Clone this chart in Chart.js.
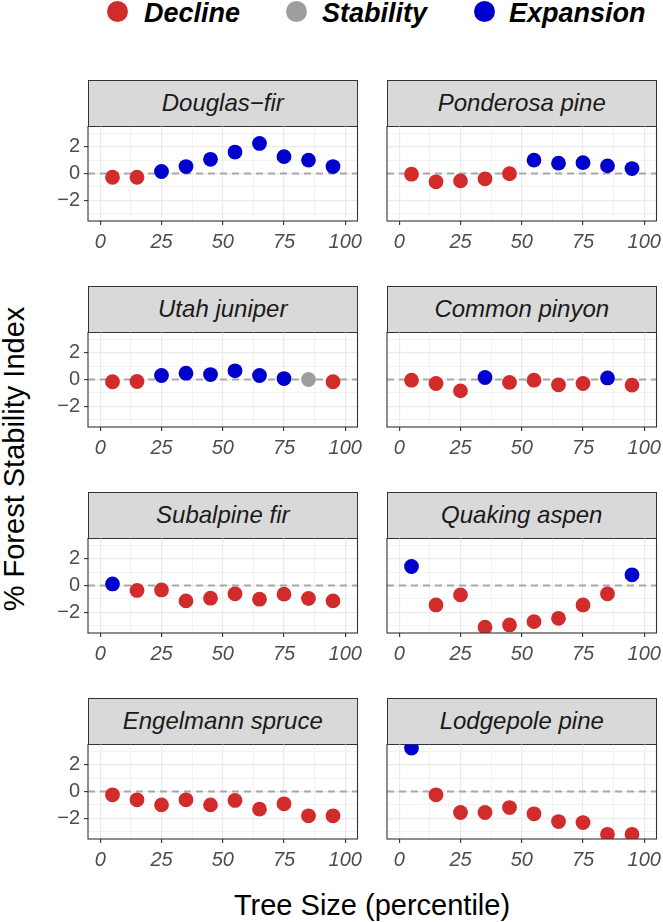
<!DOCTYPE html>
<html>
<head>
<meta charset="utf-8">
<script src="https://cdn.jsdelivr.net/npm/chart.js@4.4.1/dist/chart.umd.min.js"></script>
<style>
  body { margin: 0; background: #fff; font-family: "Liberation Sans", Arial, sans-serif; }
  #page { position: relative; width: 663px; height: 922px; overflow: hidden; }
  .strip {
    position: absolute; box-sizing: border-box; background: #D9D9D9;
    border: 1.1px solid #333; display: flex; align-items: center; justify-content: center;
    font-style: italic; font-size: 24px; color: #1A1A1A;
  }
  .panel { position: absolute; }
  .lg-dot { position: absolute; width: 21px; height: 21px; border-radius: 50%; }
  .lg-txt { position: absolute; font-weight: bold; font-style: italic; font-size: 27px; line-height: 27px; color: #000; }
  .axis-title { position: absolute; font-size: 29px; color: #000; white-space: nowrap; }
</style>
</head>
<body>
<div id="page"></div>
<script>
// size classes (percentile midpoints)
const sizeClasses = [5, 15, 25, 35, 45, 55, 65, 75, 85, 95];

const speciesNames = [
  'Douglas−fir', 'Ponderosa pine',
  'Utah juniper', 'Common pinyon',
  'Subalpine fir', 'Quaking aspen',
  'Engelmann spruce', 'Lodgepole pine'
];

// % forest stability index per size class
const douglasFir      = [-0.28, -0.28, 0.15, 0.52, 1.06, 1.6, 2.25, 1.26, 1.0, 0.52];
const ponderosaPine   = [-0.05, -0.62, -0.55, -0.4, -0.02, 1.0, 0.77, 0.81, 0.57, 0.37];
const utahJuniper     = [-0.17, -0.15, 0.3, 0.47, 0.37, 0.65, 0.3, 0.07, 0.0, -0.17];
const commonPinyon    = [-0.05, -0.3, -0.85, 0.15, -0.22, -0.05, -0.4, -0.3, 0.12, -0.42];
const subalpineFir    = [0.12, -0.37, -0.33, -1.15, -0.95, -0.62, -1.02, -0.65, -0.97, -1.15];
const quakingAspen    = [1.42, -1.45, -0.7, -3.12, -2.95, -2.7, -2.45, -1.45, -0.62, 0.8];
const engelmannSpruce = [-0.25, -0.62, -1.0, -0.62, -1.0, -0.67, -1.32, -0.92, -1.82, -1.82];
const lodgepolePine   = [3.25, -0.25, -1.57, -1.57, -1.2, -1.67, -2.25, -2.32, -3.2, -3.2];

// D = Decline, S = Stability, E = Expansion
const douglasFirStatus      = ['D','D','E','E','E','E','E','E','E','E'];
const ponderosaPineStatus   = ['D','D','D','D','D','E','E','E','E','E'];
const utahJuniperStatus     = ['D','D','E','E','E','E','E','E','S','D'];
const commonPinyonStatus    = ['D','D','D','E','D','D','D','D','E','D'];
const subalpineFirStatus    = ['E','D','D','D','D','D','D','D','D','D'];
const quakingAspenStatus    = ['E','D','D','D','D','D','D','D','D','E'];
const engelmannSpruceStatus = ['D','D','D','D','D','D','D','D','D','D'];
const lodgepolePineStatus   = ['E','D','D','D','D','D','D','D','D','D'];

const seriesValues = [douglasFir, ponderosaPine, utahJuniper, commonPinyon,
  subalpineFir, quakingAspen, engelmannSpruce, lodgepolePine];
const seriesStatus = [douglasFirStatus, ponderosaPineStatus, utahJuniperStatus, commonPinyonStatus,
  subalpineFirStatus, quakingAspenStatus, engelmannSpruceStatus, lodgepolePineStatus];

const legendLabels = ['Decline', 'Stability', 'Expansion'];
const statusKeys = ['D', 'S', 'E'];
const statusColors = { D: '#D22B2B', S: '#9E9E9E', E: '#0000CD' };

const xTicks = [0, 25, 50, 75, 100];
const xMinor = [12.5, 37.5, 62.5, 87.5];
const yTicks = [-2, 0, 2];
const yMinor = [-3, -1, 1, 3];

// layout
const page = document.getElementById('page');
const colLeft = [88, 387];
const panelW = 269.5;
const rowTop = [126, 332, 538, 744];
const panelH = 95.5;
const stripH = 46.5;
const axisH = 40;

function el(cls, style, text) {
  const d = document.createElement('div');
  d.className = cls;
  Object.assign(d.style, style);
  if (text !== undefined) d.textContent = text;
  page.appendChild(d);
  return d;
}

// legend
const legendDotX = [107, 286, 474];
const legendTxtX = [144, 322, 509];
legendLabels.forEach((lab, i) => {
  el('lg-dot', { left: legendDotX[i] + 'px', top: '1px', background: statusColors[statusKeys[i]] });
  el('lg-txt', { left: legendTxtX[i] + 'px', top: '0px' }, lab);
});

// axis titles
el('axis-title', { left: '372px', top: '889px', transform: 'translateX(-50%)' }, 'Tree Size (percentile)');
el('axis-title', { left: '14px', top: '459px', transform: 'translate(-50%,-50%) rotate(-90deg)' }, '% Forest Stability Index');

const borderPlugin = {
  id: 'panelBorder',
  afterDatasetsDraw(chart) {
    const a = chart.chartArea, c = chart.ctx;
    c.save();
    c.strokeStyle = '#333333';
    c.lineWidth = 1.1;
    c.strokeRect(a.left, a.top, a.right - a.left, a.bottom - a.top);
    c.restore();
  }
};

const fmt = v => (v < 0 ? '−' + Math.abs(v) : String(v));

speciesNames.forEach((name, i) => {
  const col = i % 2, row = Math.floor(i / 2);
  const left = colLeft[col], top = rowTop[row];

  el('strip', {
    left: left + 'px', top: (top - stripH) + 'px',
    width: panelW + 'px', height: (stripH + 1) + 'px'
  }, name);

  const yAxisW = col === 0 ? 58 : 0;
  const canvasLeft = col === 0 ? left - yAxisW : left - 10;
  const padLeft = col === 0 ? 0 : 10;
  const canvasW = col === 0 ? 342 : 663 - canvasLeft;
  const padRight = canvasW - padLeft - yAxisW - panelW;

  const wrap = el('panel', {
    left: canvasLeft + 'px', top: top + 'px',
    width: canvasW + 'px', height: (panelH + axisH) + 'px'
  });
  const cv = document.createElement('canvas');
  cv.width = canvasW;
  cv.height = panelH + axisH;
  wrap.appendChild(cv);

  const pts = sizeClasses.map((x, k) => ({ x: x, y: seriesValues[i][k] }));
  const cols = seriesStatus[i].map(s => statusColors[s]);

  new Chart(cv, {
    type: 'scatter',
    data: {
      datasets: [
        {
          data: pts,
          pointRadius: 7.4,
          pointHoverRadius: 7.4,
          pointBackgroundColor: cols,
          pointBorderWidth: 0,
          pointBorderColor: cols,
          clip: 0,
          order: 0
        },
        {
          type: 'line',
          data: [{ x: -5, y: 0 }, { x: 105, y: 0 }],
          borderColor: '#A8A8A8',
          borderWidth: 2.2,
          borderDash: [7, 5],
          pointRadius: 0,
          clip: 0,
          order: 2
        }
      ]
    },
    options: {
      responsive: false,
      animation: false,
      events: [],
      layout: { autoPadding: false, padding: { left: padLeft, right: padRight, top: 0, bottom: 0 } },
      plugins: { legend: { display: false }, tooltip: { enabled: false } },
      scales: {
        x: {
          type: 'linear', min: -5, max: 105,
          afterBuildTicks: s => { s.ticks = xTicks.concat(xMinor).sort((a, b) => a - b).map(v => ({ value: v })); },
          afterFit: s => { s.height = axisH; s.paddingLeft = 0; s.paddingRight = 0; },
          border: { display: false },
          grid: {
            color: '#EBEBEB',
            lineWidth: c => (xTicks.includes(c.tick.value) ? 1.2 : 0.6),
            tickColor: c => (xTicks.includes(c.tick.value) ? '#333333' : 'rgba(0,0,0,0)'),
            tickLength: 4,
            tickWidth: 1.1
          },
          ticks: {
            autoSkip: false, maxRotation: 0,
            padding: 5,
            color: '#4D4D4D',
            font: { family: '"Liberation Sans", Arial', size: 20, style: 'italic' },
            callback: v => (xTicks.includes(v) ? String(v) : '')
          }
        },
        y: {
          type: 'linear', min: -3.55, max: 3.55,
          afterBuildTicks: s => { s.ticks = yTicks.concat(yMinor).sort((a, b) => a - b).map(v => ({ value: v })); },
          afterFit: s => { s.width = yAxisW; s.paddingTop = 0; s.paddingBottom = 0; },
          border: { display: false },
          grid: {
            color: '#EBEBEB',
            lineWidth: c => (yTicks.includes(c.tick.value) ? 1.2 : 0.6),
            tickColor: c => (col === 0 && yTicks.includes(c.tick.value) ? '#333333' : 'rgba(0,0,0,0)'),
            tickLength: col === 0 ? 4 : 0,
            tickWidth: 1.1,
            drawTicks: col === 0
          },
          ticks: {
            display: col === 0,
            autoSkip: false,
            padding: 4,
            color: '#4D4D4D',
            font: { family: '"Liberation Sans", Arial', size: 20 },
            callback: v => (yTicks.includes(v) ? fmt(v) : '')
          }
        }
      }
    },
    plugins: [borderPlugin]
  });
});
</script>
</body>
</html>
